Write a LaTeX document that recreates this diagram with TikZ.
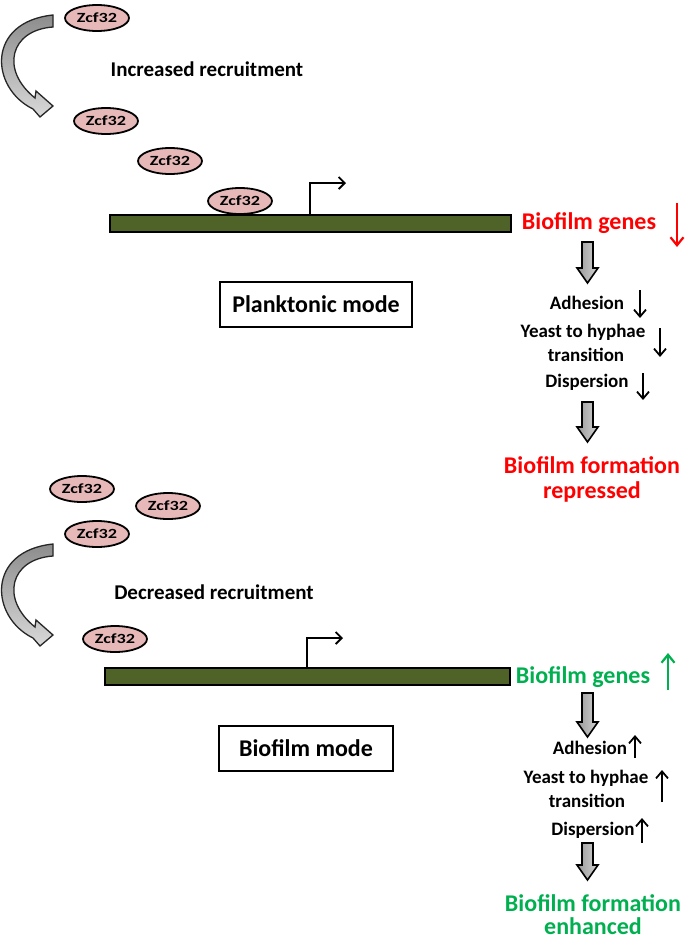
\documentclass[tikz,border=0pt]{standalone}
\usepackage{fontspec}
\setmainfont{Carlito}
\usetikzlibrary{arrows.meta,shapes.geometric}
\definecolor{zpink}{HTML}{E6B9B8}
\definecolor{olive}{HTML}{4F6228}
\definecolor{redtxt}{HTML}{FF0000}
\definecolor{greentxt}{HTML}{00B050}
\newcommand\zlabel{\scalebox{1.3}[1]{Zcf32}}
\tikzset{
  zcf/.style={ellipse,draw=black,line width=1.8pt,fill=zpink,minimum width=64pt,minimum height=26pt,inner sep=0pt,font=\bfseries\fontsize{14}{15}\selectfont},
  recr/.style={font=\bfseries\fontsize{21}{23}\selectfont},
  modebox/.style={draw=black,line width=1.8pt,fill=white,inner sep=0pt,font=\bfseries\fontsize{24}{26}\selectfont},
  genes/.style={font=\bfseries\fontsize{24}{26}\selectfont},
  step2/.style={font=\bfseries\fontsize{19}{22}\selectfont},
  outcome/.style={font=\bfseries\fontsize{24}{27}\selectfont,inner sep=1pt},
  gene/.style={draw=black,line width=1.8pt,fill=olive},
  promo/.style={line width=1.8pt,-{Straight Barb[length=6pt,width=12pt,line width=1.8pt]}},
  smallarr/.style={line width=1.8pt,-{Straight Barb[length=7pt,width=12pt,line width=1.8pt]}},
  colarr/.style={line width=2.2pt,-{Straight Barb[length=8pt,width=13pt,line width=2.2pt]}},
  blockarr/.style={draw=black,line width=1.6pt,left color=gray!80,right color=gray!35},
  curvearr/.style={draw=black!85,line width=1.3pt,top color=gray!90,bottom color=gray!30},
  pics/curv/.style={code={
    \path[curvearr] (53,15) -- (53,27) .. controls (10,30) and (0,70) .. (35,98)
      -- (36,91) -- (53,106) -- (40,117) -- (33,109)
      .. controls (-10,88) and (-14,22) .. (53,15) -- cycle;
  }}
}
\newcommand\blockdown[3]{% x, ytop, ybottom
  \path[blockarr] ({#1-5.5},#2) -- ({#1+5.5},#2) -- ({#1+5.5},{#3-15}) -- ({#1+10.5},{#3-15})
   -- (#1,#3) -- ({#1-10.5},{#3-15}) -- ({#1-5.5},{#3-15}) -- cycle;}
\begin{document}
\begin{tikzpicture}[x=1pt,y=-1pt]
\useasboundingbox[fill=white] (0,0) rectangle (685,940);
% ---------------- top: planktonic ----------------
\pic at (0,0) {curv};
\node[zcf] (z1) at (97,18) {\zlabel};
\node[zcf] (z2) at (106,121) {\zlabel};
\node[zcf] (z3) at (170,161) {\zlabel};
\node[recr] (inc) at (207,69) {Increased recruitment};
\draw[gene] (110,215) rectangle (511,232);
\node[zcf] (z4) at (240,201) {\zlabel};
\coordinate (p1a) at (310,215);
\coordinate (p1b) at (310,183);
\coordinate (p1c) at (346,183);
\draw[promo] (p1a) -- (p1b) -- (p1c);
\node[modebox,minimum width=192pt,minimum height=45pt] (plank) at (316,304.5) {Planktonic mode};
\node[genes,text=redtxt] (bg1) at (589,223) {Biofilm genes};
\coordinate (r1a) at (677,203);
\coordinate (r1b) at (677,247);
\draw[colarr,redtxt] (r1a) -- (r1b);
\blockdown{587.5}{242}{283}
\node[step2] (ad1) at (587,303) {Adhesion};
\draw[smallarr] (640,290) -- (640,318);
\node[step2] (yh1) at (583,332) {Yeast to hyphae};
\node[step2] (tr1) at (586,355) {transition};
\draw[smallarr] (660,328) -- (660,357);
\node[step2] (di1) at (587,382) {Dispersion};
\draw[smallarr] (643,373) -- (643,400);
\blockdown{587.5}{402}{442}
\node[outcome,text=redtxt] (out1a) at (592,465) {Biofilm formation};
\node[outcome,text=redtxt] (out1b) at (592,492) {repressed};
% ---------------- bottom: biofilm ----------------
\node[zcf] (z5) at (82,489) {\zlabel};
\node[zcf] (z6) at (168,506) {\zlabel};
\node[zcf] (z7) at (97,534) {\zlabel};
\pic at (0,529) {curv};
\node[recr] (dec) at (214,592) {Decreased recruitment};
\node[zcf] (z8) at (115,639) {\zlabel};
\draw[gene] (105,668) rectangle (510,685);
\coordinate (p2a) at (307,668);
\coordinate (p2b) at (307,638);
\coordinate (p2c) at (343,638);
\draw[promo] (p2a) -- (p2b) -- (p2c);
\node[modebox,minimum width=174pt,minimum height=45pt] (biof) at (306,748.5) {Biofilm mode};
\node[genes,text=greentxt] (bg2) at (583,677) {Biofilm genes};
\coordinate (g2a) at (668,690);
\coordinate (g2b) at (668,653);
\draw[colarr,greentxt] (g2a) -- (g2b);
\blockdown{587.5}{693}{737}
\node[step2] (ad2) at (590,748) {Adhesion};
\draw[smallarr] (635,758) -- (635,735);
\node[step2] (yh2) at (586,778) {Yeast to hyphae};
\node[step2] (tr2) at (587,801) {transition};
\draw[smallarr] (662,802) -- (662,770);
\node[step2] (di2) at (593,830) {Dispersion};
\draw[smallarr] (642,843) -- (642,818);
\blockdown{587.5}{843}{880}
\node[outcome,text=greentxt] (out2a) at (593,903) {Biofilm formation};
\node[outcome,text=greentxt] (out2b) at (593,926) {enhanced};
\end{tikzpicture}
\end{document}
